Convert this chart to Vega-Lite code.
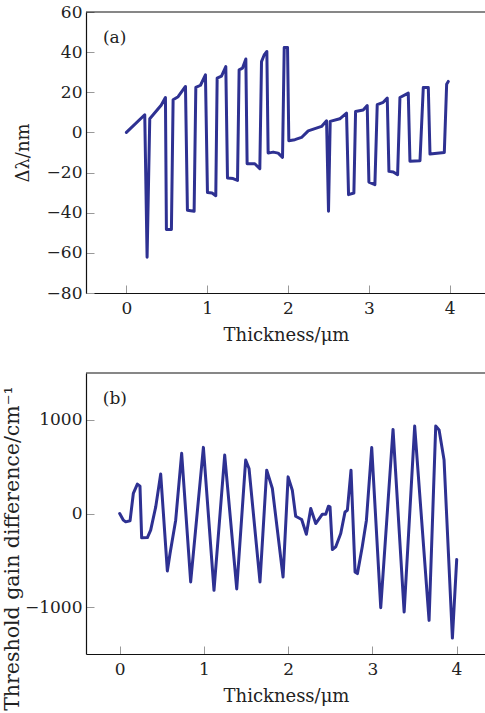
{
  "$schema": "https://vega.github.io/schema/vega-lite/v6.json",
  "padding": {"left": 2, "top": 3, "right": 0, "bottom": 0},
  "background": "white",
  "spacing": 28,
  "config": {
    "view": {"stroke": null},
    "font": "DejaVu Serif",
    "axis": {
      "labelFont": "DejaVu Serif",
      "labelFontSize": 17,
      "labelColor": "#222222",
      "titleFont": "DejaVu Serif",
      "titleFontWeight": "normal",
      "titleFontSize": 18,
      "titleColor": "#222222",
      "domainColor": "#111111",
      "domainWidth": 1.2,
      "tickColor": "#999999",
      "tickWidth": 1,
      "grid": false
    }
  },
  "datasets": {
    "a": [
      {"thickness": 0, "dl": 0}, {"thickness": 0.227, "dl": 8.8}, {"thickness": 0.256, "dl": -62.2},
      {"thickness": 0.289, "dl": 6.8}, {"thickness": 0.43, "dl": 13.5}, {"thickness": 0.483, "dl": 17.4},
      {"thickness": 0.495, "dl": -48.4}, {"thickness": 0.557, "dl": -48.4}, {"thickness": 0.578, "dl": 16.3},
      {"thickness": 0.64, "dl": 17.8}, {"thickness": 0.731, "dl": 22.9}, {"thickness": 0.755, "dl": -38.8},
      {"thickness": 0.838, "dl": -39.3}, {"thickness": 0.859, "dl": 22.4}, {"thickness": 0.917, "dl": 23.5},
      {"thickness": 0.978, "dl": 28.7}, {"thickness": 1.003, "dl": -29.9}, {"thickness": 1.06, "dl": -30.2},
      {"thickness": 1.106, "dl": -31.5}, {"thickness": 1.123, "dl": 27}, {"thickness": 1.177, "dl": 28},
      {"thickness": 1.23, "dl": 32.8}, {"thickness": 1.251, "dl": -22.7}, {"thickness": 1.32, "dl": -23},
      {"thickness": 1.375, "dl": -23.9}, {"thickness": 1.395, "dl": 31.2}, {"thickness": 1.436, "dl": 32},
      {"thickness": 1.478, "dl": 36.6}, {"thickness": 1.494, "dl": -15.6}, {"thickness": 1.589, "dl": -15.6},
      {"thickness": 1.651, "dl": -18.1}, {"thickness": 1.672, "dl": 35.3}, {"thickness": 1.705, "dl": 38.6},
      {"thickness": 1.738, "dl": 40.3}, {"thickness": 1.754, "dl": -10.3}, {"thickness": 1.816, "dl": -9.8},
      {"thickness": 1.878, "dl": -10.3}, {"thickness": 1.932, "dl": -12.4}, {"thickness": 1.953, "dl": 42.3},
      {"thickness": 1.994, "dl": 42.3}, {"thickness": 2.01, "dl": -4.1}, {"thickness": 2.085, "dl": -3.6},
      {"thickness": 2.167, "dl": -2.5}, {"thickness": 2.25, "dl": 0.8}, {"thickness": 2.415, "dl": 3},
      {"thickness": 2.477, "dl": 5.8}, {"thickness": 2.501, "dl": -39.3}, {"thickness": 2.522, "dl": 5.5},
      {"thickness": 2.641, "dl": 6.8}, {"thickness": 2.724, "dl": 9.6}, {"thickness": 2.749, "dl": -31},
      {"thickness": 2.815, "dl": -30.2}, {"thickness": 2.836, "dl": 10.4}, {"thickness": 2.93, "dl": 11.2},
      {"thickness": 2.98, "dl": 13.4}, {"thickness": 3.001, "dl": -24.7}, {"thickness": 3.075, "dl": -26},
      {"thickness": 3.104, "dl": 13.8}, {"thickness": 3.178, "dl": 15}, {"thickness": 3.228, "dl": 17.1},
      {"thickness": 3.249, "dl": -19.4}, {"thickness": 3.303, "dl": -19.7}, {"thickness": 3.356, "dl": -21.1},
      {"thickness": 3.385, "dl": 17.4}, {"thickness": 3.488, "dl": 19.6}, {"thickness": 3.509, "dl": -14.4},
      {"thickness": 3.633, "dl": -14.1}, {"thickness": 3.674, "dl": 22.4}, {"thickness": 3.736, "dl": 22.4},
      {"thickness": 3.757, "dl": -10.8}, {"thickness": 3.934, "dl": -10}, {"thickness": 3.963, "dl": 24},
      {"thickness": 3.983, "dl": 25.4}
    ],
    "b": [
      {"thickness": 0, "g": 0}, {"thickness": 0.044, "g": -71}, {"thickness": 0.071, "g": -89},
      {"thickness": 0.123, "g": -78}, {"thickness": 0.162, "g": 214}, {"thickness": 0.21, "g": 314},
      {"thickness": 0.241, "g": 292}, {"thickness": 0.261, "g": -260}, {"thickness": 0.329, "g": -257},
      {"thickness": 0.368, "g": -178}, {"thickness": 0.428, "g": 71}, {"thickness": 0.487, "g": 421},
      {"thickness": 0.566, "g": -613}, {"thickness": 0.598, "g": -428}, {"thickness": 0.665, "g": -71},
      {"thickness": 0.736, "g": 642}, {"thickness": 0.843, "g": -731}, {"thickness": 0.994, "g": 706},
      {"thickness": 1.12, "g": -820}, {"thickness": 1.247, "g": 624}, {"thickness": 1.39, "g": -805},
      {"thickness": 1.496, "g": 570}, {"thickness": 1.536, "g": 481}, {"thickness": 1.666, "g": -731},
      {"thickness": 1.746, "g": 463}, {"thickness": 1.813, "g": 267}, {"thickness": 1.94, "g": -678},
      {"thickness": 2.0, "g": 391}, {"thickness": 2.05, "g": 249}, {"thickness": 2.09, "g": -29},
      {"thickness": 2.161, "g": -64}, {"thickness": 2.217, "g": -221}, {"thickness": 2.269, "g": 53},
      {"thickness": 2.328, "g": -107}, {"thickness": 2.407, "g": -7}, {"thickness": 2.447, "g": -7},
      {"thickness": 2.479, "g": 78}, {"thickness": 2.498, "g": 71}, {"thickness": 2.526, "g": -385},
      {"thickness": 2.565, "g": -357}, {"thickness": 2.625, "g": -214}, {"thickness": 2.676, "g": 17},
      {"thickness": 2.704, "g": 35}, {"thickness": 2.747, "g": 463}, {"thickness": 2.795, "g": -624},
      {"thickness": 2.823, "g": -642}, {"thickness": 2.88, "g": -357}, {"thickness": 2.93, "g": -71},
      {"thickness": 2.993, "g": 704}, {"thickness": 3.1, "g": -1005}, {"thickness": 3.246, "g": 898},
      {"thickness": 3.378, "g": -1052}, {"thickness": 3.503, "g": 934}, {"thickness": 3.674, "g": -1141},
      {"thickness": 3.753, "g": 934}, {"thickness": 3.793, "g": 891}, {"thickness": 3.852, "g": 570},
      {"thickness": 3.951, "g": -1330}, {"thickness": 4.002, "g": -492}
    ]
  },
  "vconcat": [
    {
      "width": 400,
      "height": 281,
      "layer": [
        {
          "data": {"name": "a"},
          "mark": {"type": "line", "color": "#2e3192", "strokeWidth": 3, "strokeJoin": "round", "strokeCap": "round"},
          "encoding": {
            "x": {
              "field": "thickness", "type": "quantitative",
              "scale": {"domain": [-0.5, 4.45], "nice": false, "zero": false},
              "axis": {"values": [0, 1, 2, 3, 4], "format": "d", "title": "Thickness/μm", "tickSize": -8, "labelPadding": 15, "titlePadding": 10}
            },
            "y": {
              "field": "dl", "type": "quantitative",
              "scale": {"domain": [-80, 60], "nice": false, "zero": false},
              "axis": {"values": [-80, -60, -40, -20, 0, 20, 40, 60], "labelExpr": "replace(datum.label, '-', '−')", "title": "Δλ/nm", "tickSize": -8, "labelPadding": 12, "titlePadding": 14}
            }
          }
        },
        {
          "data": {"values": [{"panel": "(a)"}]},
          "mark": {"type": "rule", "color": "#111111", "strokeWidth": 1.2},
          "encoding": {"y": {"datum": 60}}
        },
        {
          "data": {"values": [{"panel": "(a)"}]},
          "mark": {"type": "text", "font": "DejaVu Serif", "fontSize": 17, "align": "left", "baseline": "middle", "color": "#222222"},
          "encoding": {"x": {"datum": -0.29}, "y": {"datum": 47}, "text": {"field": "panel"}}
        }
      ]
    },
    {
      "width": 400,
      "height": 281,
      "layer": [
        {
          "data": {"name": "b"},
          "mark": {"type": "line", "color": "#2e3192", "strokeWidth": 3, "strokeJoin": "round", "strokeCap": "round"},
          "encoding": {
            "x": {
              "field": "thickness", "type": "quantitative",
              "scale": {"domain": [-0.4, 4.35], "nice": false, "zero": false},
              "axis": {"values": [0, 1, 2, 3, 4], "format": "d", "title": "Thickness/μm", "tickSize": -8, "labelPadding": 15, "titlePadding": 10}
            },
            "y": {
              "field": "g", "type": "quantitative",
              "scale": {"domain": [-1500, 1500], "nice": false, "zero": false},
              "axis": {"values": [-1000, 0, 1000], "format": "d", "labelExpr": "replace(datum.label, '-', '−')", "title": "Threshold gain difference/cm⁻¹", "titleFontSize": 20.5, "titleY": 175, "tickSize": -8, "labelPadding": 12, "titlePadding": 2}
            }
          }
        },
        {
          "data": {"values": [{"panel": "(b)"}]},
          "mark": {"type": "rule", "color": "#111111", "strokeWidth": 1.2},
          "encoding": {"y": {"datum": 1500}}
        },
        {
          "data": {"values": [{"panel": "(b)"}]},
          "mark": {"type": "text", "font": "DejaVu Serif", "fontSize": 17, "align": "left", "baseline": "middle", "color": "#222222"},
          "encoding": {"x": {"datum": -0.2}, "y": {"datum": 1223}, "text": {"field": "panel"}}
        }
      ]
    }
  ]
}
